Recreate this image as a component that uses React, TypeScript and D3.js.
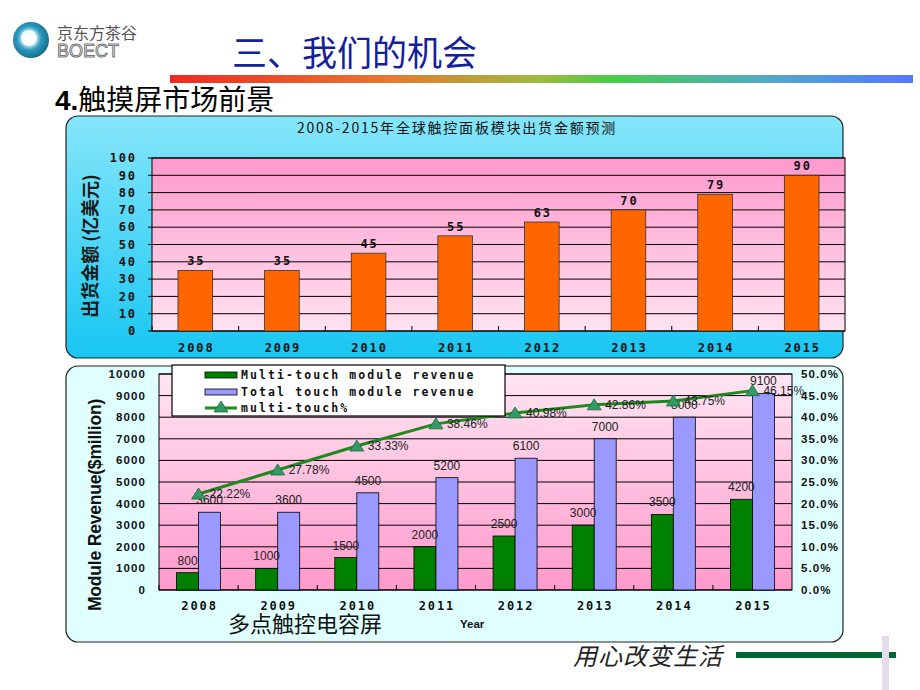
import React from 'react';
import * as d3 from 'd3';

// chart data
const years = ['2008', '2009', '2010', '2011', '2012', '2013', '2014', '2015'];
const shipment = [35, 35, 45, 55, 63, 70, 79, 90];
const multiRevenue = [800, 1000, 1500, 2000, 2500, 3000, 3500, 4200];
const totalRevenue = [3600, 3600, 4500, 5200, 6100, 7000, 8000, 9100];
const multiShare = [22.22, 27.78, 33.33, 38.46, 40.98, 42.86, 43.75, 46.15];
const legendLabels = ['Multi-touch module revenue', 'Total touch module revenue', 'multi-touch%'];

const ARIAL = '"Liberation Sans", Arial, sans-serif';
const MONO = '"DejaVu Sans Mono", "Liberation Mono", monospace';
const CJK = '"Noto Sans CJK SC", sans-serif';

const App = () => {
    // top chart
    const top = { left: 152, right: 845, top: 158, bottom: 331 };
    const x1 = d3.scaleBand().domain(years).range([top.left, top.right]);
    const y1 = d3.scaleLinear().domain([0, 100]).range([top.bottom, top.top]);
    const barW1 = x1.bandwidth() * 0.4;

    // bottom chart
    const bot = { left: 159, right: 792, top: 374, bottom: 590 };
    const x2 = d3.scaleBand().domain(years).range([bot.left, bot.right]);
    const y2 = d3.scaleLinear().domain([0, 10000]).range([bot.bottom, bot.top]);
    const y2r = d3.scaleLinear().domain([0, 50]).range([bot.bottom, bot.top]);
    const barW2 = 22;
    const cx2 = (d: string) => (x2(d) as number) + x2.bandwidth() / 2;

    const line = d3.line<number>()
        .x((_, i) => cx2(years[i]))
        .y(d => y2r(d));

    const tri = (cx: number, cy: number) =>
        `M${cx},${cy - 6}L${cx + 7},${cy + 5}L${cx - 7},${cy + 5}Z`;

    const monoText = { fontFamily: MONO, fontWeight: 'bold', fontSize: 12, letterSpacing: 1.9, fill: '#111' } as const;

    return (
        <svg width={920} height={690} style={{ position: 'absolute', left: 0, top: 0, background: '#fff' }}>
            <defs>
                <linearGradient id="headBar" x1="0" x2="1" y1="0" y2="0">
                    <stop offset="0" stopColor="#ee2a22" />
                    <stop offset="0.3" stopColor="#e57a30" />
                    <stop offset="0.5" stopColor="#9cbc3e" />
                    <stop offset="0.6" stopColor="#46cc4a" />
                    <stop offset="0.8" stopColor="#52aac8" />
                    <stop offset="1" stopColor="#5577ff" />
                </linearGradient>
                <linearGradient id="topPanel" x1="0" x2="0" y1="0" y2="1">
                    <stop offset="0" stopColor="#86e6fa" />
                    <stop offset="1" stopColor="#18c6f2" />
                </linearGradient>
                <linearGradient id="topPlot" x1="0" x2="0" y1="0" y2="1">
                    <stop offset="0" stopColor="#ff99cc" />
                    <stop offset="1" stopColor="#ffe2f0" />
                </linearGradient>
                <linearGradient id="botPlot" x1="0" x2="0" y1="0" y2="1">
                    <stop offset="0" stopColor="#ffe6f2" />
                    <stop offset="1" stopColor="#ff99cc" />
                </linearGradient>
                <radialGradient id="logo" cx="0.45" cy="0.45" r="0.55">
                    <stop offset="0" stopColor="#ffffff" />
                    <stop offset="0.35" stopColor="#bfe8f4" />
                    <stop offset="0.6" stopColor="#2e9cc0" />
                    <stop offset="1" stopColor="#16708e" />
                </radialGradient>
            </defs>

            {/* header */}
            <circle cx={31} cy={40} r={18} fill="url(#logo)" />
            <circle cx={29} cy={38} r={8} fill="#fff" opacity={0.85} />
            <text x={57} y={39} fontFamily={CJK} fontSize={16} fill="#555">京东方茶谷</text>
            <text x={57} y={57} fontFamily={ARIAL} fontSize={18} fill="#fff" stroke="#777" strokeWidth={1}>BOECT</text>
            <text x={232} y={66} fontFamily={CJK} fontSize={35} fill="#14209c">三、我们的机会</text>
            <rect x={170} y={75} width={743} height={8} fill="url(#headBar)" />
            <text x={55} y={110} fontFamily={CJK} fontSize={28} fill="#000">
                <tspan fontFamily={ARIAL} fontWeight="bold">4.</tspan>触摸屏市场前景
            </text>

            {/* top panel */}
            <rect x={66} y={116} width={777} height={242} rx={12} fill="url(#topPanel)" stroke="#222" strokeWidth={1.2} />
            <text x={457} y={133} textAnchor="middle" fontFamily={CJK} fontSize={14} letterSpacing={1.8} fill="#111">
                2008-2015年全球触控面板模块出货金额预测
            </text>
            <rect x={top.left} y={top.top} width={top.right - top.left} height={top.bottom - top.top} fill="url(#topPlot)" stroke="#000" />
            {y1.ticks(10).map(t => (
                <g key={t}>
                    <line x1={top.left - 4} x2={top.right} y1={y1(t)} y2={y1(t)} stroke="#000" strokeWidth={1} />
                    <text x={137} y={y1(t)} dy="0.35em" textAnchor="end" {...monoText}>{t}</text>
                </g>
            ))}
            {years.map((d, i) => {
                const bx = (x1(d) as number) + (x1.bandwidth() - barW1) / 2;
                return (
                    <g key={d}>
                        <line x1={x1(d)} x2={x1(d)} y1={top.bottom} y2={top.bottom - 5} stroke="#000" />
                        <rect x={bx} y={y1(shipment[i])} width={barW1} height={top.bottom - y1(shipment[i])} fill="#ff6600" stroke="#333" strokeWidth={0.8} />
                        <text x={bx + barW1 / 2 + 1} y={y1(shipment[i]) - 5} textAnchor="middle" {...monoText}>{shipment[i]}</text>
                        <text x={bx + barW1 / 2 + 1} y={352} textAnchor="middle" {...monoText}>{d}</text>
                    </g>
                );
            })}
            <text transform="translate(97,246) rotate(-90)" textAnchor="middle" fontFamily={CJK} fontWeight="bold" fontSize={18} fill="#1a1a1a">
                出货金额 (亿美元)
            </text>

            {/* bottom panel */}
            <rect x={66} y={366} width={777} height={276} rx={12} fill="#e0ffff" stroke="#222" strokeWidth={1.2} />
            <rect x={bot.left} y={bot.top} width={bot.right - bot.left} height={bot.bottom - bot.top} fill="url(#botPlot)" stroke="#000" />
            {y2.ticks(10).map(t => (
                <g key={t}>
                    <line x1={bot.left} x2={bot.right} y1={y2(t)} y2={y2(t)} stroke="#000" strokeWidth={1} />
                    <text x={146} y={y2(t)} dy="0.35em" textAnchor="end" fontFamily={ARIAL} fontWeight="bold" fontSize={11.5} letterSpacing={1.1} fill="#111">{t}</text>
                </g>
            ))}
            {y2r.ticks(10).map(t => (
                <text key={t} x={801} y={y2r(t)} dy="0.35em" fontFamily={ARIAL} fontWeight="bold" fontSize={11.5} letterSpacing={1.1} fill="#111">{d3.format('.1f')(t)}%</text>
            ))}
            {years.map((d, i) => {
                const c = cx2(d);
                return (
                    <g key={d}>
                        <line x1={x2(d)} x2={x2(d)} y1={bot.bottom} y2={bot.bottom - 5} stroke="#000" />
                        <rect x={c - barW2} y={y2(multiRevenue[i])} width={barW2} height={bot.bottom - y2(multiRevenue[i])} fill="#008000" stroke="#000" strokeWidth={0.8} />
                        <rect x={c} y={y2(totalRevenue[i])} width={barW2} height={bot.bottom - y2(totalRevenue[i])} fill="#9999ff" stroke="#000" strokeWidth={0.8} />
                        <text x={c - barW2 / 2} y={y2(multiRevenue[i]) - 8} textAnchor="middle" fontFamily={ARIAL} fontSize={12} fill="#222">{multiRevenue[i]}</text>
                        <text x={c + barW2 / 2} y={y2(totalRevenue[i]) - 8} textAnchor="middle" fontFamily={ARIAL} fontSize={12} fill="#222">{totalRevenue[i]}</text>
                        <text x={c + 1} y={610} textAnchor="middle" {...monoText}>{d}</text>
                    </g>
                );
            })}
            <path d={line(multiShare) || ''} fill="none" stroke="#1e8a1e" strokeWidth={3} />
            {multiShare.map((v, i) => (
                <g key={i}>
                    <path d={tri(cx2(years[i]), y2r(v))} fill="#339966" stroke="#1b6b3b" strokeWidth={0.8} />
                    <text x={cx2(years[i]) + 11} y={y2r(v)} dy="0.35em" fontFamily={ARIAL} fontSize={12} fill="#222">{d3.format('.2f')(v)}%</text>
                </g>
            ))}

            {/* legend */}
            <rect x={172} y={365} width={333} height={51} fill="#fff" stroke="#000" strokeWidth={1.2} />
            <rect x={205} y={372} width={32} height={6} fill="#008000" stroke="#000" strokeWidth={0.8} />
            <rect x={205} y={389} width={32} height={6} fill="#9999ff" stroke="#000" strokeWidth={0.8} />
            <line x1={205} x2={237} y1={408} y2={408} stroke="#1e8a1e" strokeWidth={3} />
            <path d={tri(221, 407)} fill="#339966" stroke="#1b6b3b" strokeWidth={0.8} />
            {legendLabels.map((l, i) => (
                <text key={l} x={241} y={379 + i * 16.5} fontFamily={MONO} fontWeight="bold" fontSize={11.5} letterSpacing={2.1} fill="#111">{l}</text>
            ))}

            <text transform="translate(101,505) rotate(-90)" textAnchor="middle" fontFamily={ARIAL} fontWeight="bold" fontSize={17.5} letterSpacing={-0.2} fill="#111">
                Module Revenue($million)
            </text>
            <text x={460} y={628} fontFamily={ARIAL} fontWeight="bold" fontSize={11.5} fill="#111">Year</text>
            <text x={228} y={632} fontFamily={CJK} fontSize={22} fill="#111">多点触控电容屏</text>

            {/* footer */}
            <text x={573} y={665} fontFamily={CJK} fontStyle="italic" fontSize={24} fill="#222" letterSpacing={1}>用心改变生活</text>
            <rect x={736} y={652} width={160} height={6} fill="#006633" />
            <rect x={882} y={636} width={7} height={54} fill="#e4dcec" />
        </svg>
    );
};

export default App;
